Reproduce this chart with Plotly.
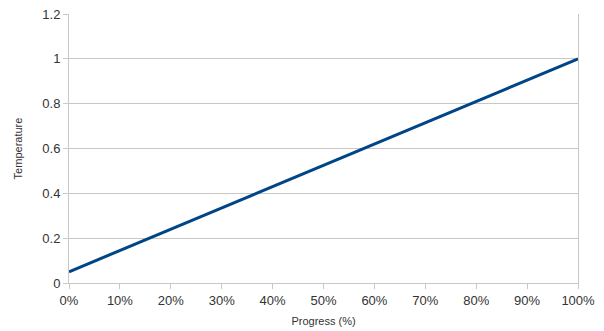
import plotly.graph_objects as go

progress = [0, 10, 20, 30, 40, 50, 60, 70, 80, 90, 100]
temperature = [0.05, 0.145, 0.24, 0.335, 0.43, 0.525, 0.62, 0.715, 0.81, 0.905, 1.0]
y_ticks = [0, 0.2, 0.4, 0.6, 0.8, 1.0, 1.2]
y_tick_labels = ["0", "0.2", "0.4", "0.6", "0.8", "1", "1.2"]
x_ticks = [0, 10, 20, 30, 40, 50, 60, 70, 80, 90, 100]
x_tick_labels = [f"{v}%" for v in x_ticks]

fig = go.Figure()
fig.add_trace(go.Scatter(x=progress, y=temperature, mode="lines",
                         line=dict(color="#004586", width=3)))

grid = "#c8c8c8"
fig.update_layout(
    width=604, height=331,
    margin=dict(l=69, r=26, t=14, b=48, autoexpand=False),
    paper_bgcolor="white", plot_bgcolor="white",
    showlegend=False,
    font=dict(family="Liberation Sans, Arial, sans-serif", color="#333333", size=13),
    xaxis=dict(range=[0, 100], tickvals=x_ticks, ticktext=x_tick_labels,
               showgrid=False, showline=True, linecolor=grid, linewidth=1,
               ticks="outside", ticklen=5, tickcolor=grid,
               zeroline=False, mirror=False, automargin=False,
               title=dict(text="Progress (%)", font=dict(size=11, color="#333333"), standoff=10)),
    yaxis=dict(range=[0, 1.2], tickvals=y_ticks, ticktext=y_tick_labels,
               showgrid=True, gridcolor=grid, gridwidth=1,
               showline=True, linecolor=grid, linewidth=1, mirror=True,
               ticks="outside", ticklen=5, tickcolor=grid,
               zeroline=False, automargin=False,
               title=dict(text="Temperature", font=dict(size=11, color="#333333"), standoff=17)),
)

fig.write_html("out.html", config={"displayModeBar": False},
               post_script="document.body.style.margin='0';document.body.style.padding='0';")
